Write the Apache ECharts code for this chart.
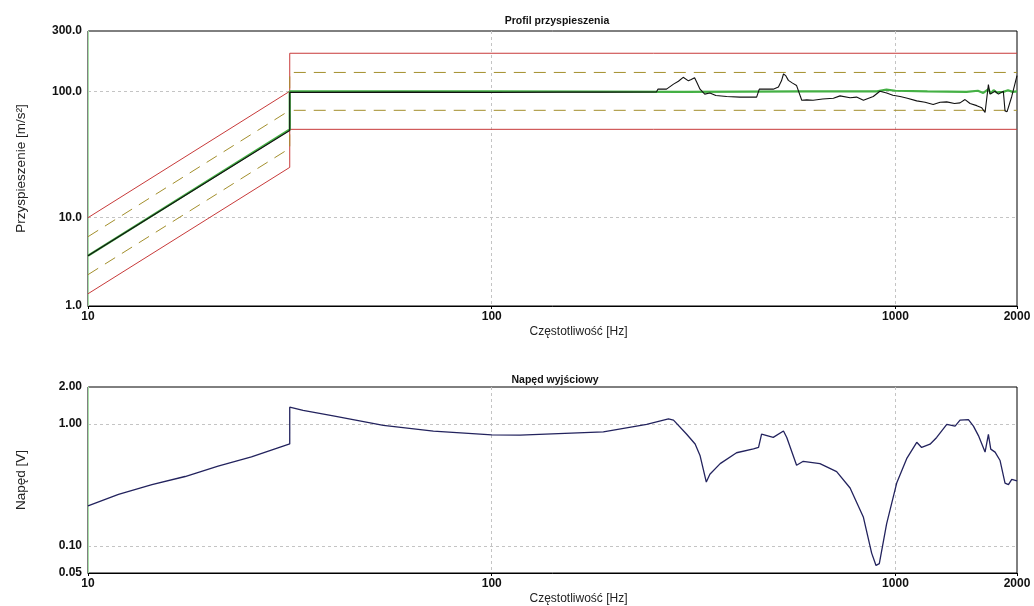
<!DOCTYPE html>
<html>
<head>
<meta charset="utf-8">
<script src="https://cdn.jsdelivr.net/npm/echarts@6/dist/echarts.min.js"></script>
<style>
html,body{margin:0;padding:0;background:#fff;}
#c{width:1034px;height:606px;}
</style>
</head>
<body>
<div id="c"></div>
<script>
// ---------- Data ----------
const freqTickVals = [10, 100, 1000, 2000];
const freqTickLabels = ['10', '100', '1000', '2000'];

const accelTickVals = [2, 10, 100, 300];
const accelTickLabels = ['1.0', '10.0', '100.0', '300.0'];

const driveTickVals = [0.06, 0.1, 1, 2];
const driveTickLabels = ['0.05', '0.10', '1.00', '2.00'];

// profile breakpoints (Hz)
const profileFreq = [10, 31.6, 31.6, 2000];
const abortHigh = [10, 100, 200, 200];
const alarmHigh = [7.07, 70.7, 141, 141];
const alarmLow = [3.54, 35.4, 70.7, 70.7];
const abortLow = [2.5, 25, 50, 50];

// control (green)
const ctrlFreq = [10, 31.6, 31.6, 100, 300, 600, 900, 950, 1000, 1200, 1500, 1600, 1650, 1700, 1720, 1750, 1780, 1800, 1850, 1900, 1950, 2000];
const ctrlVal = [5, 50, 100, 100, 99, 100, 100, 103, 101, 100, 99, 101, 97, 104, 96, 102, 98, 101, 99, 102, 99, 100];

// measured (black)
const measFreq = [10, 31.6, 31.6, 60, 100, 150, 185, 256, 258, 271, 282, 290, 298, 307, 312, 318, 322, 328, 337, 347, 359, 382, 412, 453, 460, 480, 498, 513, 522, 528, 535, 543, 556, 569, 586, 603, 625, 660, 702, 729, 772, 801, 833, 881, 915, 951, 985, 1027, 1070, 1129, 1184, 1240, 1290, 1340, 1400, 1445, 1487, 1530, 1590, 1636, 1667, 1699, 1715, 1732, 1765, 1799, 1816, 1850, 1868, 1890, 1905, 1941, 1970, 2000];
const measVal = [5, 49, 98, 98.5, 98, 98.5, 98.5, 99, 104, 104, 114, 120, 129, 121, 124, 128, 118, 104, 95, 97, 92.5, 91, 90, 90, 104, 104, 104, 108, 121, 137, 133, 122, 116, 111, 85, 85.5, 85, 87, 88, 92, 89, 90, 85, 91, 100, 97, 93, 91, 88, 84, 82, 78.5, 82, 82.5, 80, 81, 86, 80, 77, 74, 68, 113, 95, 92, 100, 95, 97, 100, 70, 69, 71, 91, 110, 133];

// drive (bottom)
const driveFreq = [10, 11.9, 14.4, 17.4, 21.0, 25.4, 31.6, 31.6, 34.1, 40.5, 53.9, 71.7, 100, 117.5, 189, 242, 274, 282, 304, 319, 328, 340, 347, 368, 404, 445, 458, 466, 498, 528, 538, 569, 591, 650, 715, 772, 833, 873, 895, 912, 951, 1007, 1066, 1129, 1161, 1218, 1265, 1340, 1405, 1445, 1516, 1560, 1605, 1667, 1699, 1722, 1765, 1816, 1868, 1905, 1941, 2000];
const driveVal = [0.213, 0.264, 0.317, 0.370, 0.450, 0.535, 0.683, 1.368, 1.285, 1.16, 0.97, 0.87, 0.81, 0.806, 0.857, 0.987, 1.096, 1.07, 0.821, 0.683, 0.551, 0.333, 0.386, 0.472, 0.579, 0.623, 0.64, 0.821, 0.773, 0.873, 0.773, 0.458, 0.493, 0.472, 0.406, 0.298, 0.1715, 0.0873, 0.0692, 0.0716, 0.152, 0.327, 0.518, 0.705, 0.64, 0.68, 0.773, 0.987, 0.957, 1.07, 1.08, 0.957, 0.8, 0.586, 0.82, 0.62, 0.586, 0.5, 0.327, 0.317, 0.35, 0.34];

// ---------- helpers ----------
function zip(xs, ys) { return xs.map((x, i) => [x, ys[i]]); }
function labelFor(vals, labels) {
  return function (v) {
    const i = vals.findIndex(t => Math.abs(Math.log10(t) - Math.log10(v)) < 0.01);
    return i >= 0 ? labels[i] : '';
  };
}
const FONT = 'Liberation Sans, Arial, sans-serif';
const RED = '#c83a3a';
const OLIVE = '#a38f2c';
const GREEN = '#44b044';

function xAxisCfg(gridIndex) {
  return {
    type: 'log', logBase: 10, gridIndex: gridIndex, min: 10, max: 2000,
    name: 'Częstotliwość [Hz]', nameLocation: 'middle', nameGap: 20,
    nameTextStyle: { fontFamily: FONT, fontSize: 12, color: '#222', padding: [0, 0, 0, 52] },
    axisLine: { show: true, lineStyle: { color: '#000', width: 1 } },
    axisTick: { show: true, length: 3, lineStyle: { color: '#000' } },
    axisLabel: { fontFamily: FONT, fontSize: 12, fontWeight: 'bold', color: '#111', margin: 5,
      showMinLabel: true, showMaxLabel: true, formatter: labelFor(freqTickVals, freqTickLabels) },
    splitLine: { show: true, showMinLine: false, showMaxLine: false, lineStyle: { color: '#c4c4c4', type: [3, 3] } },
    minorTick: { show: false }
  };
}
function yAxisCfg(gridIndex, min, max, name, vals, labels) {
  return {
    type: 'log', logBase: 10, gridIndex: gridIndex, min: min, max: max,
    name: name, nameLocation: 'middle', nameGap: 60,
    nameTextStyle: { fontFamily: FONT, fontSize: 13.5, color: '#222' },
    axisLine: { show: true, lineStyle: { color: '#a8e0a8', width: 1 } },
    axisTick: { show: false },
    axisLabel: { fontFamily: FONT, fontSize: 12, fontWeight: 'bold', color: '#111', margin: 6,
      showMinLabel: true, showMaxLabel: true, formatter: labelFor(vals, labels) },
    splitLine: { show: true, showMinLine: false, showMaxLine: false, lineStyle: { color: '#c4c4c4', type: [3, 3] } }
  };
}
function lineSeries(data, color, width, type, xi, z) {
  return {
    type: 'line', xAxisIndex: xi, yAxisIndex: xi, data: data, showSymbol: false, symbol: 'none',
    silent: true, z: z || 2, animation: false,
    lineStyle: { color: color, width: width, type: type || 'solid' }
  };
}

const chart = echarts.init(document.getElementById('c'), null, { renderer: 'canvas' });
chart.setOption({
  backgroundColor: '#fff',
  animation: false,
  title: [
    { text: 'Profil przyspieszenia', left: 552, top: 11, textAlign: 'center',
      textStyle: { fontFamily: FONT, fontSize: 10.5, fontWeight: 'bold', color: '#111' } },
    { text: 'Napęd wyjściowy', left: 550, top: 370, textAlign: 'center',
      textStyle: { fontFamily: FONT, fontSize: 10.5, fontWeight: 'bold', color: '#111' } }
  ],
  grid: [
    { left: 88, right: 17, top: 31, height: 275, show: true, borderColor: '#000', borderWidth: 1, backgroundColor: 'transparent' },
    { left: 88, right: 17, top: 387, height: 190, show: true, borderColor: '#000', borderWidth: 1, backgroundColor: 'transparent' }
  ],
  xAxis: [xAxisCfg(0), xAxisCfg(1)],
  yAxis: [
    yAxisCfg(0, 2, 300, 'Przyspieszenie [m/s²]', accelTickVals, accelTickLabels),
    yAxisCfg(1, 0.06, 2, 'Napęd [V]', driveTickVals, driveTickLabels)
  ],
  series: [
    lineSeries(zip(profileFreq, abortHigh), RED, 1, 'solid', 0),
    lineSeries(zip(profileFreq, abortLow), RED, 1, 'solid', 0),
    lineSeries(zip(profileFreq, alarmHigh), OLIVE, 1, [12, 8], 0),
    lineSeries(zip(profileFreq, alarmLow), OLIVE, 1, [12, 8], 0),
    lineSeries(zip(ctrlFreq, ctrlVal), GREEN, 2.2, 'solid', 0, 3),
    lineSeries(zip(measFreq, measVal), '#111', 1.1, 'solid', 0, 4),
    lineSeries(zip(driveFreq, driveVal), '#23235e', 1.3, 'solid', 1, 3)
  ]
});
</script>
</body>
</html>
